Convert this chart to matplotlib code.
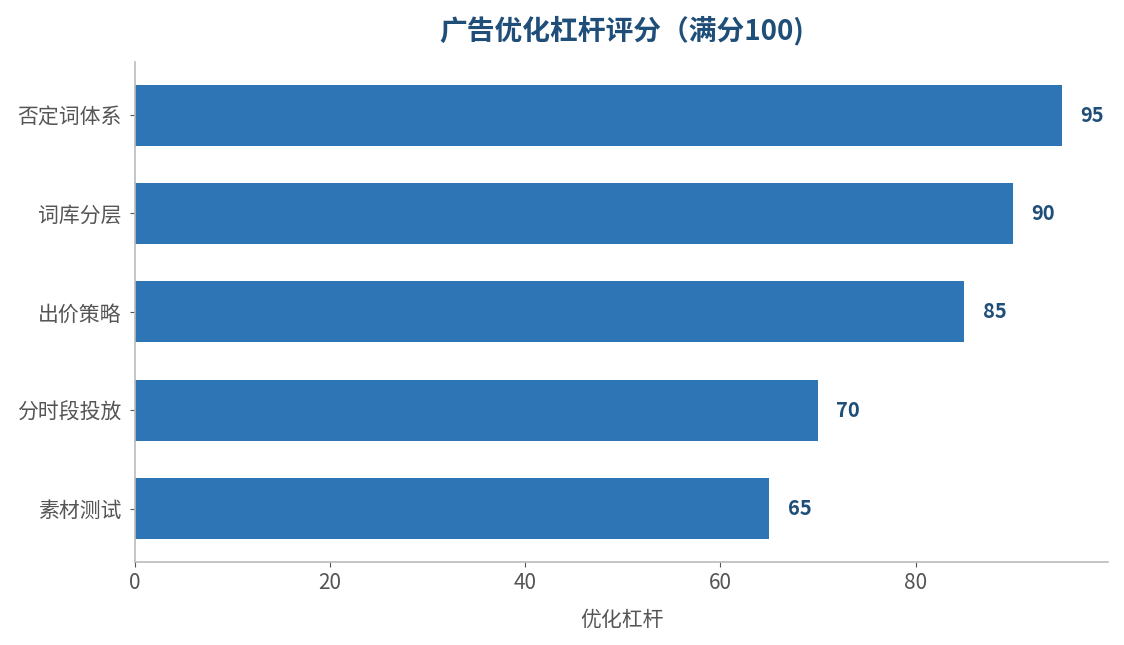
import matplotlib
matplotlib.use('Agg')
import matplotlib.pyplot as plt

plt.rcParams['font.family'] = ['Noto Sans CJK SC', 'DejaVu Sans']

# data
levers = ['否定词体系', '词库分层', '出价策略', '分时段投放', '素材测试']
scores = [95, 90, 85, 70, 65]

bar_color = '#2e75b6'
dark_blue = '#1f4e79'
gray = '#555555'

fig, ax = plt.subplots(figsize=(11.24, 6.45), dpi=100)
fig.subplots_adjust(left=0.120, right=0.986, top=0.904, bottom=0.129)

# first category on top
ypos = list(range(len(levers)))[::-1]
ax.barh(ypos, scores, height=0.62, color=bar_color)

for y, v in zip(ypos, scores):
    ax.text(v + 1.9, y, str(v), va='center', ha='left',
            fontsize=14.5, fontweight='bold', color=dark_blue)

ax.set_yticks(ypos)
ax.set_yticklabels(levers)
ax.set_xlim(0, max(scores) * 1.05)
ax.set_xticks([0, 20, 40, 60, 80])

ax.set_xlabel('优化杠杆', fontsize=15, color=gray, labelpad=11)
ax.set_title('广告优化杠杆评分（满分100)', fontsize=20, fontweight='bold',
             color=dark_blue, pad=16)

ax.tick_params(axis='both', labelsize=15, colors=gray)
ax.tick_params(axis='y', pad=6)
for side in ['top', 'right']:
    ax.spines[side].set_visible(False)
for side in ['left', 'bottom']:
    ax.spines[side].set_color('#bbbbbb')
    ax.spines[side].set_linewidth(1.2)

fig.savefig('out.png', dpi=100)
